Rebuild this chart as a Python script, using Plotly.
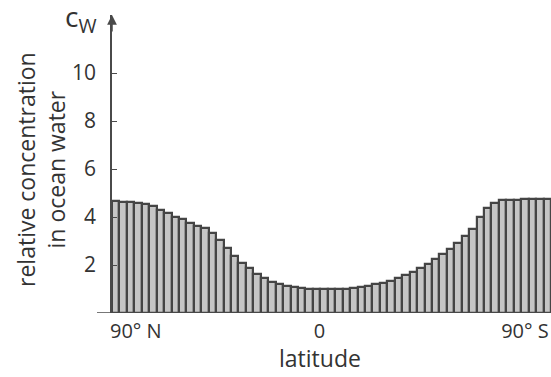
import plotly.graph_objects as go

### relative concentration c_W per latitude band, from 90 N (left) to 90 S (right)
conc = [4.65, 4.63, 4.61, 4.58, 4.53, 4.45, 4.31, 4.17, 4.01, 3.90,
        3.76, 3.64, 3.53, 3.32, 3.04, 2.69, 2.37, 2.09, 1.86, 1.62,
        1.44, 1.30, 1.20, 1.12, 1.07, 1.03, 1.01, 1.00, 1.00, 1.00,
        1.01, 1.02, 1.04, 1.07, 1.12, 1.19, 1.26, 1.34, 1.45, 1.57,
        1.71, 1.87, 2.05, 2.24, 2.45, 2.66, 2.91, 3.19, 3.51, 3.99,
        4.36, 4.58, 4.69, 4.72, 4.73, 4.74, 4.75, 4.76, 4.76]
band = list(range(len(conc)))

### x tick labels and where they sit (in band units)
lat_ticks = [2.7, 27.4, 55.0]
lat_labels = ['90° N', '0', '90° S']

### y ticks
y_ticks = [2, 4, 6, 8, 10]

axis_col = '#4a4a4a'
text_col = '#333333'
font_name = 'Open Sans'

fig = go.Figure(go.Bar(
    x=band,
    y=conc,
    marker=dict(color='#c6c6c6', line=dict(color='#454545', width=2.2)),
))

fig.update_layout(
    width=551, height=377,
    margin=dict(l=112, r=0, t=15, b=64),
    paper_bgcolor='white', plot_bgcolor='white',
    bargap=0,
    showlegend=False,
    font=dict(family=font_name, size=20, color=text_col),
)

fig.update_xaxes(
    range=[-0.5, len(conc) - 0.5],
    tickvals=lat_ticks, ticktext=lat_labels,
    ticks='', showgrid=False, zeroline=False, showline=False,
    automargin=False, ticklabelstandoff=4,
    tickfont=dict(size=20),
)
fig.update_yaxes(
    range=[0, 12.42],
    tickvals=y_ticks,
    ticks='inside', ticklen=5, tickwidth=1.3, tickcolor=axis_col,
    showline=True, linecolor=axis_col, linewidth=1.5,
    showgrid=False, zeroline=False,
    automargin=False, ticklabelstandoff=10,
    tickfont=dict(size=21),
)

### x axis baseline, reaching a bit left of the y axis
fig.add_shape(type='line', xref='paper', yref='y',
              x0=-15 / 439, x1=1, y0=0, y1=0,
              line=dict(color=axis_col, width=1.5))

### arrow head on the y axis
fig.add_annotation(xref='paper', yref='paper', x=0, y=1, ax=0, ay=18,
                   showarrow=True, arrowhead=2, arrowsize=1.3,
                   arrowwidth=1.5, arrowcolor=axis_col, text='')

### c_W label
fig.add_annotation(xref='paper', yref='paper', x=-13 / 439, y=0.99,
                   xanchor='right', yanchor='middle', showarrow=False,
                   text='c<sub>W</sub>', font=dict(size=28, color=text_col))

### y title
fig.add_annotation(xref='paper', yref='paper', x=-71 / 439, y=0.48,
                   xanchor='center', yanchor='middle', showarrow=False,
                   textangle=-90,
                   text='relative concentration<br>in ocean water',
                   font=dict(size=23, color=text_col))

### x title
fig.add_annotation(xref='paper', yref='paper', x=0.474, y=-0.15,
                   xanchor='center', yanchor='middle', showarrow=False,
                   text='latitude', font=dict(size=23, color=text_col))

### drop the page's default body margin so the figure sits at the corner
fig.write_html('out.html', config={'displayModeBar': False},
               post_script="document.body.style.margin='0';")
